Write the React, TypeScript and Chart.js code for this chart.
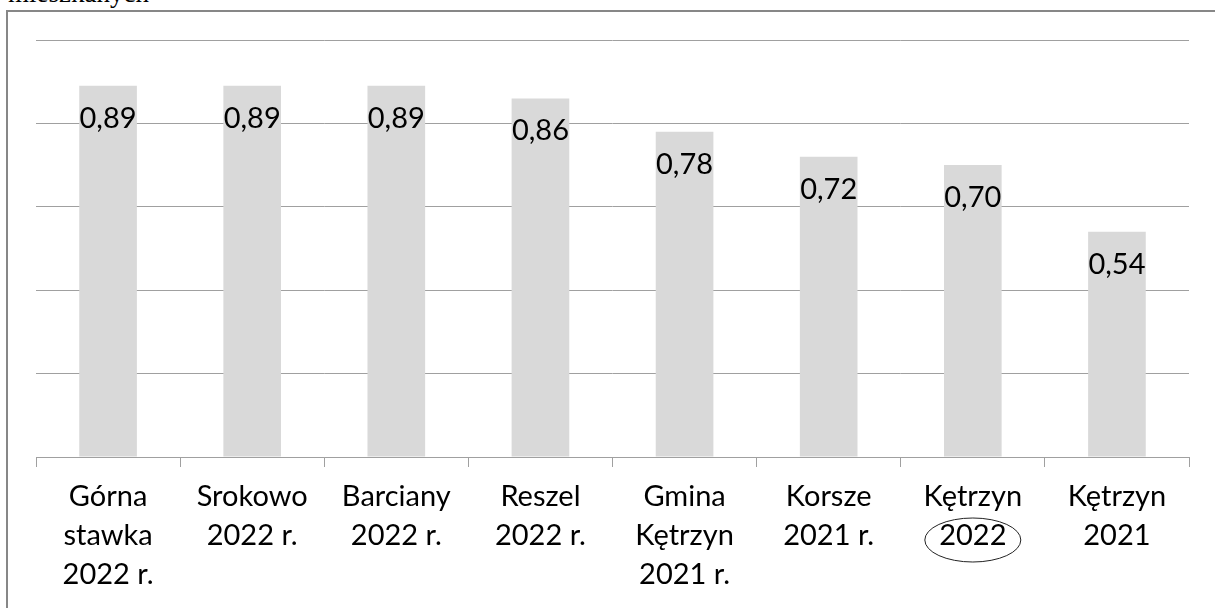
import React, { useEffect, useRef } from "react";
import { Chart, registerables } from "chart.js";

Chart.register(...registerables);

const categories: string[][] = [
  ["Górna", "stawka", "2022 r."],
  ["Srokowo", "2022 r."],
  ["Barciany", "2022 r."],
  ["Reszel", "2022 r."],
  ["Gmina", "Kętrzyn", "2021 r."],
  ["Korsze", "2021 r."],
  ["Kętrzyn", "2022"],
  ["Kętrzyn", "2021"],
];
const values: number[] = [0.89, 0.89, 0.89, 0.86, 0.78, 0.72, 0.7, 0.54];
const highlightedIndex = 6;
const headerText = "mieszkanych";

const FONT = "Lato, 'Open Sans', sans-serif";

const dataLabelPlugin = {
  id: "dataLabels",
  afterDatasetsDraw(chart: any) {
    const ctx = chart.ctx;
    const meta = chart.getDatasetMeta(0);
    ctx.save();
    ctx.font = `29px ${FONT}`;
    ctx.fillStyle = "#000000";
    ctx.textAlign = "center";
    ctx.textBaseline = "alphabetic";
    meta.data.forEach((el: any, i: number) => {
      const txt = values[i].toFixed(2).replace(".", ",");
      ctx.fillText(txt, el.x, el.y + 42);
    });
    ctx.restore();
  },
};

const ellipsePlugin = {
  id: "ellipseMark",
  afterDraw(chart: any) {
    const ctx = chart.ctx;
    const xs = chart.scales.x;
    const cx = xs.getPixelForValue(highlightedIndex);
    const cy = chart.chartArea.bottom + 83;
    ctx.save();
    ctx.beginPath();
    ctx.ellipse(cx, cy, 48, 22, 0, 0, Math.PI * 2);
    ctx.strokeStyle = "#222222";
    ctx.lineWidth = 1;
    ctx.stroke();
    ctx.restore();
  },
};

export default function App() {
  const ref = useRef<HTMLCanvasElement | null>(null);

  useEffect(() => {
    if (!ref.current) return;
    const chart = new Chart(ref.current, {
      type: "bar",
      data: {
        labels: categories,
        datasets: [
          {
            data: values,
            backgroundColor: "#d9d9d9",
            borderWidth: 0,
            barPercentage: 0.4,
            categoryPercentage: 1,
          },
        ],
      },
      options: {
        animation: false,
        responsive: false,
        events: [],
        layout: { padding: { left: 36, right: 26, top: 40, bottom: 0 } },
        plugins: {
          legend: { display: false },
          tooltip: { enabled: false },
          title: { display: false },
        },
        scales: {
          x: {
            grid: {
              drawOnChartArea: false,
              drawTicks: true,
              tickLength: 10,
              color: "#a0a0a0",
              lineWidth: 1,
            },
            border: { display: true, color: "#a0a0a0", width: 1 },
            ticks: {
              color: "#000000",
              font: { family: FONT, size: 29, lineHeight: 1.345 },
              padding: 10,
              maxRotation: 0,
              autoSkip: false,
            },
            afterFit: (scale: any) => {
              scale.height = 151;
            },
          },
          y: {
            min: 0,
            max: 1,
            ticks: { display: false, stepSize: 0.2 },
            grid: { color: "#a0a0a0", lineWidth: 1, drawTicks: false },
            border: { display: false },
            afterFit: (scale: any) => {
              scale.width = 0;
            },
          },
        },
      },
      plugins: [dataLabelPlugin, ellipsePlugin],
    });
    return () => chart.destroy();
  }, []);

  return (
    <div
      style={{
        position: "fixed",
        left: 0,
        top: 0,
        width: 1215,
        height: 608,
        overflow: "hidden",
        background: "#ffffff",
      }}
    >
      <div
        style={{
          position: "absolute",
          left: 8,
          top: -23,
          fontFamily: "'Liberation Serif', 'Times New Roman', serif",
          fontSize: 27,
          lineHeight: "32px",
          color: "#000",
          whiteSpace: "nowrap",
        }}
      >
        {headerText}
      </div>
      <div
        style={{
          position: "absolute",
          left: 6,
          top: 10,
          width: 1240,
          height: 640,
          border: "2px solid #878787",
          boxSizing: "border-box",
        }}
      />
      <canvas
        ref={ref}
        width={1215}
        height={608}
        style={{ position: "absolute", left: 0, top: 0, width: 1215, height: 608 }}
      />
    </div>
  );
}
